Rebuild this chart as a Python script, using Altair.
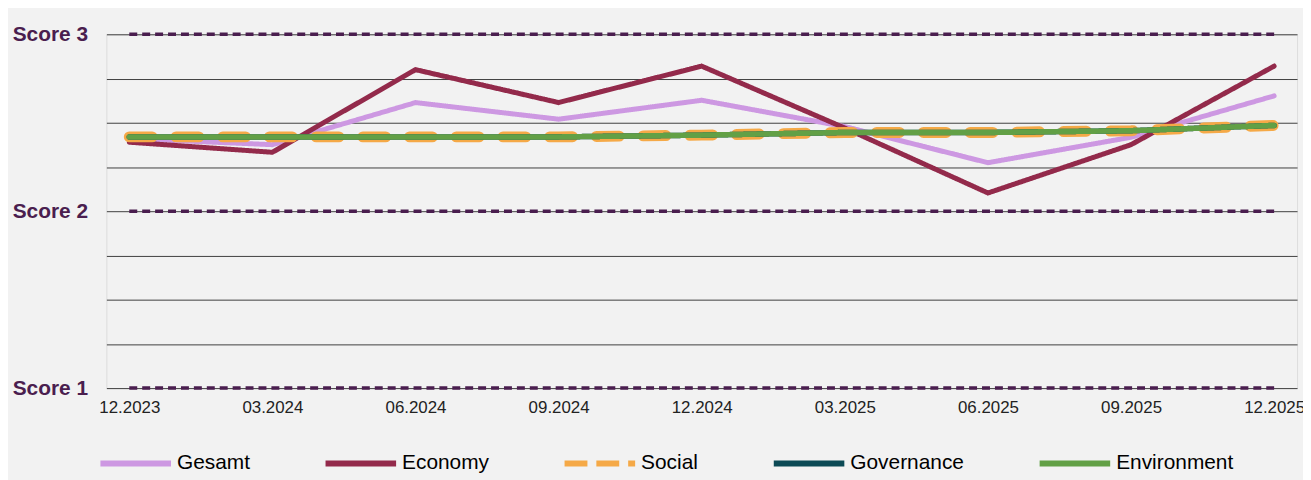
import altair as alt
import pandas as pd

periods = ["12.2023", "03.2024", "06.2024", "09.2024", "12.2024",
           "03.2025", "06.2025", "09.2025", "12.2025"]
gesamt = [2.41, 2.376, 2.614, 2.52, 2.627, 2.478, 2.274, 2.418, 2.652]
economy = [2.39, 2.333, 2.80, 2.614, 2.82, 2.47, 2.103, 2.376, 2.82]
social = [2.42, 2.42, 2.42, 2.42, 2.43, 2.445, 2.445, 2.455, 2.485]
governance = [2.42, 2.42, 2.42, 2.42, 2.43, 2.445, 2.445, 2.455, 2.485]
environment = [2.42, 2.42, 2.42, 2.42, 2.43, 2.445, 2.445, 2.455, 2.485]

series_names = ["Gesamt", "Economy", "Social", "Governance", "Environment"]
series_colors = ["#cd98e2", "#932a4b", "#f5a947", "#0c4a55", "#62a046"]
series_widths = [5, 5, 11, 5.5, 5.5]
legend_dashes = [[1, 0], [1, 0], [23, 9], [1, 0], [1, 0]]
line_dashes = [None, None, [23, 24], None, None]
score_levels = [1, 2, 3]

rows = []
for name, vals in zip(series_names, [gesamt, economy, social, governance, environment]):
    for p, v in zip(periods, vals):
        rows.append({"period": p, "value": v, "series": name})
df = pd.DataFrame(rows)

ref_rows = []
for lv in score_levels:
    for p in (periods[0], periods[-1]):
        ref_rows.append({"period": p, "value": lv, "level": lv})
ref_df = pd.DataFrame(ref_rows)

x_enc = alt.X("period:N", sort=periods,
              scale=alt.Scale(type="point", padding=0.16),
              axis=alt.Axis(title=None, labelAngle=0, ticks=False, domain=False,
                            grid=False, labelFontSize=17, labelColor="#222222",
                            labelPadding=12))
y_enc = alt.Y("value:Q",
              scale=alt.Scale(domain=[1, 3], nice=False, zero=False),
              axis=alt.Axis(title=None, values=[1, 1.25, 1.5, 1.75, 2, 2.25, 2.5, 2.75, 3],
                            labelExpr="datum.value % 1 == 0 ? 'Score ' + datum.value : ''",
                            grid=True, gridColor="#404040", gridWidth=1,
                            ticks=False, domain=False, labelFontSize=21,
                            labelFontWeight="bold", labelColor="#4a1e4f",
                            labelPadding=19))

refs = alt.Chart(ref_df).mark_line(strokeDash=[8, 5], strokeWidth=3.5,
                                   color="#4a1e4f").encode(
    x=x_enc, y=y_enc, detail="level:N")

legend = alt.Legend(title=None, orient="none", legendX=-9, legendY=393,
                    direction="horizontal", symbolType="stroke",
                    symbolSize=5041, symbolStrokeWidth=6, labelFontSize=21,
                    labelColor="#000000", columnPadding=63.5, labelOffset=3,
                    padding=0)

color_enc = alt.Color("series:N", sort=series_names,
                      scale=alt.Scale(domain=series_names, range=series_colors),
                      legend=legend)
dash_enc = alt.StrokeDash("series:N", sort=series_names,
                          scale=alt.Scale(domain=series_names, range=legend_dashes),
                          legend=legend)

layers = [refs]
for name, w, d in zip(series_names, series_widths, line_dashes):
    if d is None:
        mk = alt.Chart(df).mark_line(strokeCap="round", strokeWidth=w)
        enc = dict(x=x_enc, y=y_enc, color=color_enc, strokeDash=dash_enc)
    else:
        mk = alt.Chart(df).mark_line(strokeCap="round", strokeWidth=w, strokeDash=d)
        enc = dict(x=x_enc, y=y_enc, color=color_enc)
    layers.append(mk.encode(**enc).transform_filter(alt.datum.series == name))

chart = alt.layer(*layers).properties(
    width=1198, height=356,
    autosize="none",
    padding={"left": 99, "top": 25, "right": 6, "bottom": 91},
    background="#f2f2f2",
).configure_view(stroke=None).configure(font="Liberation Sans")

chart.save("out.html", embed_options={"renderer": "svg", "actions": False})
